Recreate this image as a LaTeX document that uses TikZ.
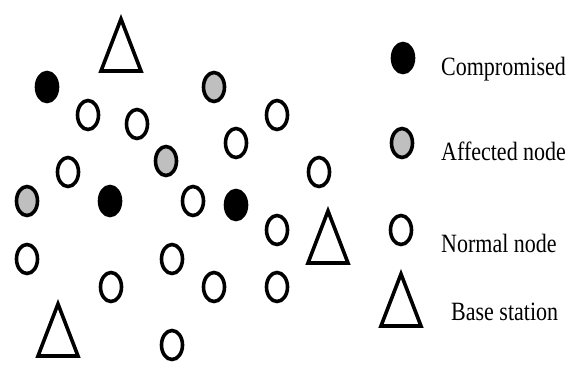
\documentclass[tikz,border=0pt]{standalone}
\usepackage{fontspec}
\setmainfont{Liberation Serif}
\usetikzlibrary{shapes.geometric,positioning}

\begin{document}
\begin{tikzpicture}[
  x=1pt, y=-1pt,
  sensor/.style={ellipse, draw, line width=3.6pt, minimum width=21pt,
                 minimum height=29pt, inner sep=0pt},
  normal/.style={sensor, fill=white},
  affected/.style={sensor, fill=gray!50},
  compromised/.style={sensor, fill=black},
  keytext/.style={anchor=base west, inner sep=0pt,
                  font=\fontsize{22}{24}\selectfont},
  bs/.pic={\draw[line width=3.6pt] (0,0) -- (-20,52) -- (20,52) -- cycle;}
]
  \useasboundingbox (0,0) rectangle (571,365);

  % base stations
  \pic (bsTop) at (121,19) {bs};
  \pic (bsRight) at (328,211) {bs};
  \pic (bsLeft) at (58,304) {bs};

  % compromised nodes
  \node[compromised] (c1) at (47,87) {};
  \node[compromised] (c2) at (110,201) {};
  \node[compromised] (c3) at (236,205) {};

  % affected nodes
  \node[affected] (a1) at (214,87) {};
  \node[affected] (a2) at (166,161) {};
  \node[affected] (a3) at (27,201) {};

  % normal nodes
  \foreach \px/\py [count=\i] in {88/115, 137/124, 277/115, 236/143,
      68/172, 319/172, 193/201, 277/230, 27/259, 172/259,
      111/287, 214/287, 277/287, 172/345}
    \node[normal] (n\i) at (\px,\py) {};

  % legend
  \node[compromised] (keyComp) at (403,58) {};
  \node[affected] (keyAff) at (402,143) {};
  \node[normal] (keyNorm) at (401,230) {};
  \pic (keyBs) at (401,274) {bs};

  \node[keytext] (txtComp) at (441,75) {\scalebox{1}[1.2]{Compromised}};
  \node[keytext] (txtAff) at (441,160) {\scalebox{1}[1.2]{Affected node}};
  \node[keytext] (txtNorm) at (441,252) {\scalebox{1}[1.2]{Normal node}};
  \node[keytext] (txtBs) at (451,320) {\scalebox{1}[1.2]{Base station}};
\end{tikzpicture}
\end{document}
